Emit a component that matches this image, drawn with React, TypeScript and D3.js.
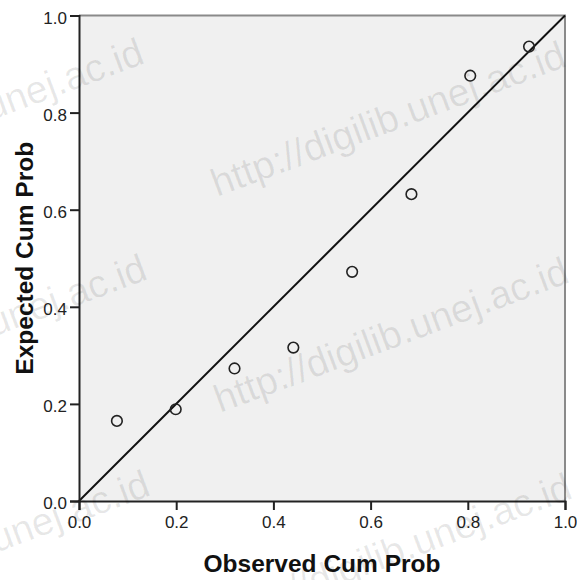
import React, { useEffect, useRef } from "react";
import * as d3 from "d3";

// observed vs expected cumulative probabilities (P-P plot)
const observedCumProb = [0.078, 0.199, 0.32, 0.441, 0.562, 0.684, 0.805, 0.926];
const expectedCumProb = [0.165, 0.189, 0.273, 0.316, 0.472, 0.632, 0.876, 0.936];
const tickValues = [0.0, 0.2, 0.4, 0.6, 0.8, 1.0];

const xTitle = "Observed Cum Prob";
const yTitle = "Expected Cum Prob";
const watermarkHead = "http://digilib.";
const watermarkTail = "unej.ac.id";

export default function App() {
  const chartRef = useRef<SVGSVGElement>(null);

  useEffect(() => {
    const svg = d3.select(chartRef.current);
    svg.selectAll("*").remove();

    const width = 577;
    const height = 580;
    const margin = { top: 15.5, right: 12, bottom: 79, left: 79 };
    const font = "'Liberation Sans', Arial, sans-serif";

    const x = d3.scaleLinear().domain([0, 1]).range([margin.left, width - margin.right]);
    const y = d3.scaleLinear().domain([0, 1]).range([height - margin.bottom, margin.top]);

    svg.append("rect").attr("width", width).attr("height", height).attr("fill", "#fff");

    // plot background
    svg
      .append("rect")
      .attr("x", x(0))
      .attr("y", y(1))
      .attr("width", x(1) - x(0))
      .attr("height", y(0) - y(1))
      .attr("fill", "#f0f0f0");

    // top + right frame in gray
    svg
      .append("path")
      .attr("d", `M${x(0)},${y(1)}H${x(1)}V${y(0)}`)
      .attr("fill", "none")
      .attr("stroke", "#8a8a8a")
      .attr("stroke-width", 2);

    // reference line y = x
    svg
      .append("line")
      .attr("x1", x(0))
      .attr("y1", y(0))
      .attr("x2", x(1))
      .attr("y2", y(1))
      .attr("stroke", "#111")
      .attr("stroke-width", 2);

    // axes
    const xAxis = d3
      .axisBottom(x)
      .tickValues(tickValues)
      .tickSize(9)
      .tickPadding(6)
      .tickFormat(d3.format(".1f"));
    const yAxis = d3
      .axisLeft(y)
      .tickValues(tickValues)
      .tickSize(9)
      .tickPadding(3)
      .tickFormat(d3.format(".1f"));

    const gx = svg.append("g").attr("transform", `translate(0,${y(0)})`).call(xAxis);
    const gy = svg.append("g").attr("transform", `translate(${x(0)},0)`).call(yAxis);

    [gx, gy].forEach((g) => {
      g.select(".domain").attr("stroke", "#222").attr("stroke-width", 2);
      g.selectAll(".tick line").attr("stroke", "#222").attr("stroke-width", 2);
      g.selectAll(".tick text")
        .attr("fill", "#222")
        .attr("font-family", font)
        .attr("font-size", 17);
    });
    gy.selectAll(".tick text").attr("dy", "0.62em").attr("y", -3);

    // points
    svg
      .append("g")
      .selectAll("circle")
      .data(observedCumProb.map((v, i) => [v, expectedCumProb[i]]))
      .enter()
      .append("circle")
      .attr("cx", (d) => x(d[0]))
      .attr("cy", (d) => y(d[1]))
      .attr("r", 5.3)
      .attr("fill", "none")
      .attr("stroke", "#222")
      .attr("stroke-width", 1.6);

    // axis titles
    svg
      .append("text")
      .attr("x", (x(0) + x(1)) / 2)
      .attr("y", 572)
      .attr("text-anchor", "middle")
      .attr("font-family", font)
      .attr("font-weight", 700)
      .attr("font-size", 24.5)
      .attr("fill", "#111")
      .text(xTitle);

    svg
      .append("text")
      .attr("transform", `translate(33,${(y(0) + y(1)) / 2}) rotate(-90)`)
      .attr("text-anchor", "middle")
      .attr("font-family", font)
      .attr("font-weight", 700)
      .attr("font-size", 24.5)
      .attr("fill", "#111")
      .text(yTitle);

    // watermark tiles (left column only shows the tail of the string)
    const wm = svg.append("g").attr("pointer-events", "none");
    const wmSize = 39;
    const probe = wm
      .append("text")
      .attr("font-family", font)
      .attr("font-size", wmSize)
      .text(watermarkHead);
    const headLen = (probe.node() as SVGTextElement).getComputedTextLength();
    probe.remove();

    const angle = -20.5;
    const rad = (angle * Math.PI) / 180;
    const tiles = [
      [217, 197, true],
      [220, 413, true],
      [223, 629, true],
      [-205, 194, false],
      [-202, 410, false],
      [-199, 626, false],
    ] as [number, number, boolean][];
    tiles.forEach(([tx, ty, full]) => {
      const sx = full ? tx : tx + headLen * Math.cos(rad);
      const sy = full ? ty : ty + headLen * Math.sin(rad);
      wm.append("text")
        .attr("transform", `translate(${sx},${sy}) rotate(${angle})`)
        .attr("font-family", font)
        .attr("font-size", wmSize)
        .attr("fill", "#000")
        .attr("fill-opacity", 0.09)
        .text(full ? watermarkHead + watermarkTail : watermarkTail);
    });
  }, []);

  return (
    <div style={{ position: "absolute", left: 0, top: 0 }}>
      <svg ref={chartRef} width="577" height="580" style={{ display: "block" }}></svg>
    </div>
  );
}
